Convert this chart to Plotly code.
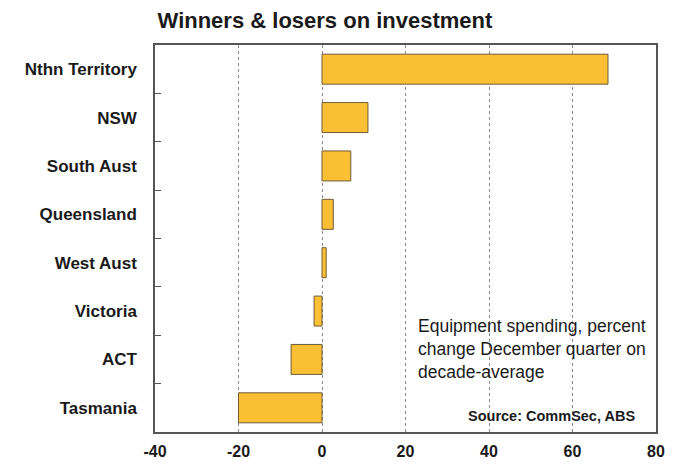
import plotly.graph_objects as go

regions = ["Nthn Territory", "NSW", "South Aust", "Queensland",
           "West Aust", "Victoria", "ACT", "Tasmania"]
pct_change = [68.5, 11.0, 6.9, 2.7, 1.0, -1.9, -7.4, -20.0]
x_ticks = [-40, -20, 0, 20, 40, 60, 80]
x_tick_text = ["-40", "-20", "0", "20", "40", "60", "80"]

FONT = "Liberation Sans, Arial, sans-serif"

fig = go.Figure(go.Bar(
    x=pct_change,
    y=regions,
    orientation="h",
    marker=dict(color="#FBBF33", line=dict(color="#6E5C3A", width=1)),
    width=0.62,
))

fig.update_layout(
    width=677, height=464,
    margin=dict(l=155, r=21, t=45, b=32),
    paper_bgcolor="white", plot_bgcolor="white",
    showlegend=False,
    font=dict(family=FONT, color="#1a1a1a"),
    title=dict(text="<b>Winners & losers on investment</b>",
               x=0.48, xanchor="center", y=0.957, yanchor="middle",
               font=dict(size=22, family=FONT, color="#1a1a1a")),
    xaxis=dict(range=[-40, 80], tickvals=x_ticks, ticktext=x_tick_text,
               showgrid=True, gridcolor="#8a8a8a", griddash="dot",
               gridwidth=1, zeroline=False, showline=True,
               linecolor="#555555", linewidth=1.5, mirror=True, ticks="",
               ticklabelstandoff=4, automargin=False,
               tickfont=dict(size=16, weight="bold", family=FONT, color="#1a1a1a")),
    yaxis=dict(categoryorder="array", categoryarray=regions,
               autorange="reversed", showgrid=False, zeroline=False,
               showline=True, linecolor="#555555", linewidth=1.5,
               mirror=True, ticks="inside", tickson="boundaries",
               ticklen=6, tickcolor="#555555", ticklabelstandoff=13,
               automargin=False,
               tickfont=dict(size=17, weight="bold", family=FONT, color="#1a1a1a")),
)

fig.add_annotation(
    text="Equipment spending, percent<br>change December quarter on<br>decade-average",
    xref="paper", yref="paper", x=0.52, y=0.214,
    xanchor="left", yanchor="middle", align="left", showarrow=False,
    font=dict(size=17.5, family=FONT, color="#1a1a1a"),
)
fig.add_annotation(
    text="<b>Source: CommSec, ABS</b>",
    xref="paper", yref="paper", x=0.962, y=0.041,
    xanchor="right", yanchor="middle", showarrow=False,
    font=dict(size=14.5, family=FONT, color="#1a1a1a"),
)

fig.write_html("out.html")
